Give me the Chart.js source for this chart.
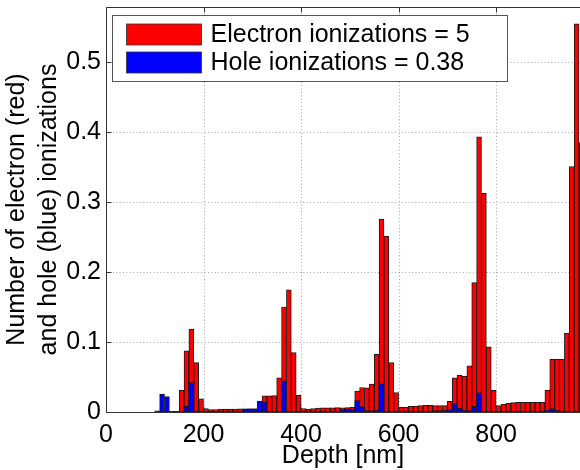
<!DOCTYPE html>
<html>
<head>
<meta charset="utf-8">
<script src="https://cdn.jsdelivr.net/npm/chart.js@4/dist/chart.umd.min.js"></script>
<style>
  html, body { margin: 0; padding: 0; background: #fff; overflow: hidden; }
  #wrap { width: 580px; height: 470px; }
</style>
</head>
<body>
<div id="wrap"><canvas id="c" width="580" height="470"></canvas></div>
<script>
// ---- data (bin centres in nm, 10 nm bins) ----
const depthNm = [5,15,25,35,45,55,65,75,85,95,
  105,115,125,135,145,155,165,175,185,195,
  205,215,225,235,245,255,265,275,285,295,
  305,315,325,335,345,355,365,375,385,395,
  405,415,425,435,445,455,465,475,485,495,
  505,515,525,535,545,555,565,575,585,595,
  605,615,625,635,645,655,665,675,685,695,
  705,715,725,735,745,755,765,775,785,795,
  805,815,825,835,845,855,865,875,885,895,
  905,915,925,935,945,955,965,975];

const electronIonizations = [0,0,0,0,0,0,0,0,0,0,
  0.0005,0,0,0.0005,0.001,0.031,0.0875,0.1187,0.0706,0.019,
  0.005,0.0035,0.0035,0.004,0.004,0.004,0.0042,0.0045,0.0045,0.0047,
  0.0045,0.012,0.023,0.023,0.0235,0.049,0.150,0.1746,0.085,0.024,
  0.005,0.0042,0.005,0.0055,0.0058,0.006,0.006,0.0062,0.006,0.0062,
  0.0072,0.0298,0.035,0.0346,0.040,0.0826,0.2757,0.2515,0.0708,0.0279,
  0.0065,0.0072,0.008,0.0086,0.009,0.0094,0.0094,0.0092,0.009,0.009,
  0.0154,0.0487,0.0523,0.0512,0.066,0.185,0.3935,0.3125,0.0932,0.031,
  0.0093,0.0108,0.0125,0.0135,0.014,0.014,0.014,0.014,0.014,0.014,
  0.0315,0.0752,0.0752,0.0752,0.113,0.351,0.555,0.385];

const holeIonizations = [0,0,0,0,0,0,0,0,0,0,
  0.0015,0.0255,0.022,0.001,0.001,0.0005,0.0085,0.042,0.001,0.0005,
  0.0005,0.0005,0.0005,0.0005,0.0005,0.0005,0.001,0.001,0.004,0.0045,
  0.0045,0.0157,0.0142,0.001,0.001,0.001,0.0446,0.001,0.0005,0.0005,
  0.0005,0.0005,0.001,0.001,0.001,0.001,0.001,0.001,0.0035,0.004,
  0.0034,0.0163,0.0077,0.002,0.002,0.0024,0.0403,0.001,0.0005,0.0005,
  0.0005,0.0005,0.0005,0.001,0.001,0.001,0.001,0.002,0.002,0.0025,
  0.0034,0.012,0.0052,0.0024,0.002,0.008,0.0274,0.0005,0.0005,0.0005,
  0.0005,0.0005,0.001,0.001,0.001,0.001,0.001,0.001,0.001,0.0015,
  0.0024,0.005,0.0025,0.001,0.001,0.001,0.001,0.001];

const seriesLabels = ['Electron ionizations = 5', 'Hole ionizations = 0.38'];
const xTickValues = [0, 200, 400, 600, 800];
const yTickValues = [0, 0.1, 0.2, 0.3, 0.4, 0.5];
const yTickLabels = ['0', '0.1', '0.2', '0.3', '0.4', '0.5'];
const xTitle = 'Depth [nm]';
const yTitle = ['Number of electron (red)', 'and hole (blue) ionizations'];

const FONT = "'Liberation Sans', Arial, Helvetica, sans-serif";
const FS = 25;

const gridPlugin = {
  id: 'matlabGrid',
  beforeDatasetsDraw(chart) {
    const {ctx, chartArea: a, scales: {x, y}} = chart;
    ctx.save();
    ctx.strokeStyle = '#a8a8a8';
    ctx.lineWidth = 1;
    ctx.setLineDash([1, 2.4]);
    xTickValues.forEach(v => {
      if (v <= x.min) return;
      const px = Math.round(x.getPixelForValue(v)) + 0.5;
      ctx.beginPath(); ctx.moveTo(px, a.top); ctx.lineTo(px, a.bottom); ctx.stroke();
    });
    yTickValues.forEach(v => {
      if (v <= y.min) return;
      const py = Math.round(y.getPixelForValue(v)) + 0.5;
      ctx.beginPath(); ctx.moveTo(a.left, py); ctx.lineTo(a.right, py); ctx.stroke();
    });
    ctx.restore();
  },
  afterDatasetsDraw(chart) {
    const {ctx, chartArea: a, scales: {x, y}} = chart;
    ctx.save();
    ctx.setLineDash([]);
    ctx.strokeStyle = '#333';
    ctx.lineWidth = 1;
    const L = Math.round(a.left) + 0.5, B = Math.round(a.bottom) + 0.5, T = Math.round(a.top) + 0.5;
    ctx.beginPath();
    ctx.moveTo(a.right + 2, T); ctx.lineTo(L, T); ctx.lineTo(L, B); ctx.lineTo(a.right + 2, B);
    ctx.stroke();
    // inward tick marks
    const tl = 5;
    ctx.beginPath();
    xTickValues.forEach(v => {
      const px = Math.round(x.getPixelForValue(v)) + 0.5;
      ctx.moveTo(px, B); ctx.lineTo(px, B - tl);
      ctx.moveTo(px, T); ctx.lineTo(px, T + tl);
    });
    yTickValues.forEach(v => {
      const py = Math.round(y.getPixelForValue(v)) + 0.5;
      ctx.moveTo(L, py); ctx.lineTo(L + tl, py);
    });
    ctx.stroke();

    // legend
    const ds = chart.data.datasets;
    ctx.font = FS + 'px ' + FONT;
    const textW = Math.max(...ds.map(d => ctx.measureText(d.label).width));
    const bx = Math.round(a.left) + 6.5, by = Math.round(a.top) + 8.5;
    const sw = 75, sh = 20, sx = bx + 14, textX = sx + sw + 9;
    const bw = Math.round(textX + textW + 38 - bx), bh = 66;
    ctx.fillStyle = '#fff';
    ctx.fillRect(bx, by, bw, bh);
    ctx.strokeStyle = '#555';
    ctx.strokeRect(bx, by, bw, bh);
    ds.forEach((d, i) => {
      const cy = by + 18.5 + i * 28;
      ctx.fillStyle = d.backgroundColor;
      ctx.fillRect(sx, cy - sh / 2, sw, sh + 1);
      ctx.strokeStyle = '#333';
      ctx.lineWidth = 0.8;
      ctx.strokeRect(sx, cy - sh / 2, sw, sh + 1);
      ctx.fillStyle = '#000';
      ctx.textBaseline = 'middle';
      ctx.textAlign = 'left';
      ctx.fillText(d.label, textX, cy + 1);
    });
    ctx.restore();
  }
};

const mk = (vals) => depthNm.map((d, i) => ({x: d, y: vals[i]}));

new Chart(document.getElementById('c'), {
  type: 'bar',
  data: {
    datasets: [
      { label: seriesLabels[0], data: mk(electronIonizations), backgroundColor: '#ff0000',
        borderColor: '#1a1a1a', borderWidth: 1, borderSkipped: false, order: 1,
        grouped: false, barPercentage: 1, categoryPercentage: 1 },
      { label: seriesLabels[1], data: mk(holeIonizations), backgroundColor: '#0000ff',
        borderColor: '#1a1a1a', borderWidth: 1, borderSkipped: false, order: 0,
        grouped: false, barPercentage: 1, categoryPercentage: 1 }
    ]
  },
  options: {
    responsive: false,
    animation: false,
    devicePixelRatio: 1,
    events: [],
    layout: { padding: { left: 0, right: 0, top: 7, bottom: 0 } },
    plugins: { legend: { display: false }, tooltip: { enabled: false } },
    scales: {
      x: {
        type: 'linear', min: 0, max: 972, offset: false,
        grid: { display: false, drawTicks: false, offset: false },
        border: { display: false },
        afterBuildTicks: ax => { ax.ticks = xTickValues.map(v => ({value: v})); },
        ticks: { color: '#000', font: { family: FONT, size: FS }, padding: 8,
                 maxRotation: 0, autoSkip: false,
                 callback: v => String(v) },
        title: { display: true, text: xTitle, color: '#000',
                 font: { family: FONT, size: FS, lineHeight: 1.08 }, padding: { top: 0, bottom: 0 } },
        afterFit: ax => { ax.height = 58; ax.paddingRight = 0; }
      },
      y: {
        type: 'linear', min: 0, max: 0.579,
        grid: { display: false, drawTicks: false },
        border: { display: false },
        afterBuildTicks: ax => { ax.ticks = yTickValues.map(v => ({value: v})); },
        ticks: { color: '#000', font: { family: FONT, size: FS }, padding: 5,
                 callback: (v) => { const i = yTickValues.indexOf(v); return i >= 0 ? yTickLabels[i] : ''; } },
        title: { display: true, text: yTitle, color: '#000',
                 font: { family: FONT, size: FS, lineHeight: 1.28 }, padding: { top: 1, bottom: 0 } },
        afterFit: ax => { ax.width = 106; ax.paddingTop = 0; ax.paddingBottom = 0; }
      }
    }
  },
  plugins: [gridPlugin]
});
</script>
</body>
</html>
